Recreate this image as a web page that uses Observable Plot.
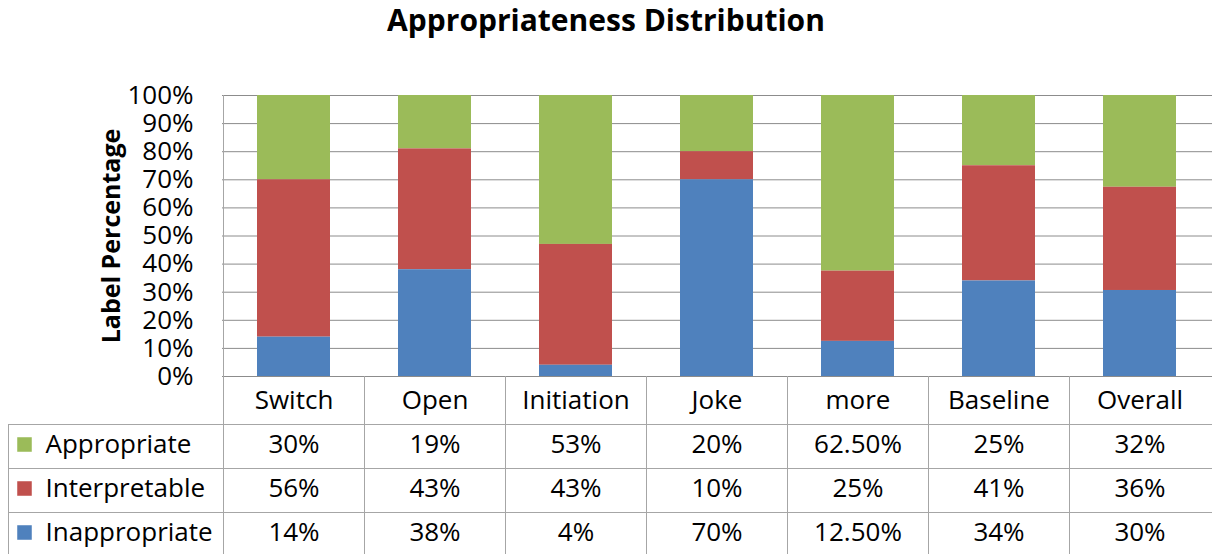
<!DOCTYPE html>
<html>
<head>
<meta charset="utf-8">
<script src="https://cdn.jsdelivr.net/npm/d3@7"></script>
<script src="https://cdn.jsdelivr.net/npm/@observablehq/plot@0.6"></script>
<style>
  html, body { margin: 0; padding: 0; background: #fff; }
  #title { height: 50px; line-height: 40px; text-align: center; font-family: "Open Sans", sans-serif; font-weight: bold; font-size: 30px; color: #000; }
  svg { display: block; }
</style>
</head>
<body>
<div id="title">Appropriateness Distribution</div>
<div id="chart"></div>
<script>
const categories = ["Switch", "Open", "Initiation", "Joke", "more", "Baseline", "Overall"];
const seriesNames = ["Appropriate", "Interpretable", "Inappropriate"];
const appropriate = [30, 19, 53, 20, 62.5, 25, 32];
const interpretable = [56, 43, 43, 10, 25, 41, 36];
const inappropriate = [14, 38, 4, 70, 12.5, 34, 30];
const yTicks = [0, 0.1, 0.2, 0.3, 0.4, 0.5, 0.6, 0.7, 0.8, 0.9, 1];
const colors = ["#9BBB59", "#C0504D", "#4F81BD"];

const seriesValues = [appropriate, interpretable, inappropriate];
const rows = [];
seriesNames.forEach((s, si) => categories.forEach((c, ci) => rows.push({series: s, category: c, value: seriesValues[si][ci]})));

const fmt = v => (v % 1 ? v.toFixed(2) : String(v)) + "%";
const pct = d => Math.round(d * 100) + "%";

const rowDy = [68, 112, 156];
const tableMarks = [];
seriesNames.forEach((s, si) => {
  tableMarks.push(Plot.text(categories, {x: d => d, text: (d, i) => fmt(seriesValues[si][i]), frameAnchor: "bottom", lineAnchor: "middle", dy: rowDy[si]}));
  tableMarks.push(Plot.text([s], {frameAnchor: "bottom-left", lineAnchor: "middle", dx: -177, dy: rowDy[si], textAnchor: "start", text: d => d}));
  tableMarks.push(Plot.dot([s], {frameAnchor: "bottom-left", dx: -198, dy: rowDy[si], symbol: "square", r: 8.2, fill: colors[si], stroke: null}));
});

const plot = Plot.plot({
  width: 1212,
  height: 504,
  marginTop: 45,
  marginBottom: 178,
  marginLeft: 222,
  marginRight: 0,
  style: {fontFamily: "Open Sans, sans-serif", fontSize: "26px", color: "#000", background: "#fff"},
  x: {domain: categories, paddingInner: 0.48, paddingOuter: 0.24, axis: null},
  y: {domain: [0, 1], axis: null},
  color: {domain: seriesNames, range: colors},
  marks: [
    Plot.gridY(yTicks, {stroke: "#8c8c8c", strokeOpacity: 1}),
    Plot.barY(rows, Plot.stackY({x: "category", y: "value", fill: "series", order: ["Inappropriate", "Interpretable", "Appropriate"], offset: "normalize"})),
    Plot.axisY(yTicks, {tickSize: 0, tickPadding: 29, tickFormat: pct, fontSize: 26, label: null}),
    Plot.ruleY([0], {stroke: "#8c8c8c"}),
    Plot.text(["Label Percentage"], {frameAnchor: "left", textAnchor: "middle", lineAnchor: "middle", dx: -111, rotate: -90, fontWeight: "bold", fontSize: 25, text: d => d}),
    Plot.text(categories, {x: d => d, text: d => d, frameAnchor: "bottom", lineAnchor: "middle", dy: 24}),
    ...tableMarks
  ]
});

document.getElementById("chart").appendChild(plot);

// table grid lines derived from the x scale
const xs = plot.scale("x");
const svg = d3.select(plot);
const g = svg.append("g").attr("stroke", "#a6a6a6").attr("stroke-width", 1).attr("fill", "none");
const bottom = 504 - 178;
const lineYs = [48, 92, 136].map(d => bottom + d + 0.5);
const bounds = categories.map(c => xs.apply(c) + xs.bandwidth / 2 - xs.step / 2);
lineYs.forEach(y => g.append("line").attr("x1", 8).attr("x2", 1212).attr("y1", y).attr("y2", y));
g.append("line").attr("x1", 8.5).attr("x2", 8.5).attr("y1", lineYs[0]).attr("y2", 504);
bounds.forEach((bx, i) => g.append("line").attr("x1", Math.round(bx) + 0.5).attr("x2", Math.round(bx) + 0.5).attr("y1", i === 0 ? 45 : bottom).attr("y2", 504));
</script>
</body>
</html>
